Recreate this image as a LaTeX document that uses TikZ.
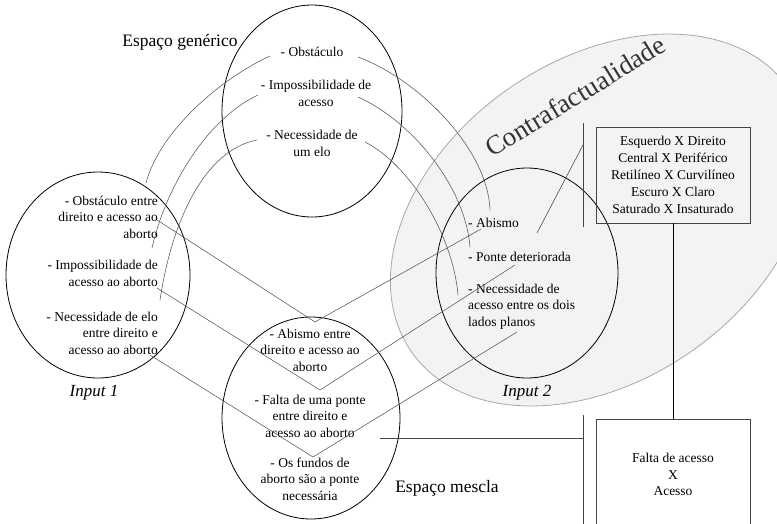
\documentclass[tikz,border=0pt]{standalone}
\usepackage{fontspec}
\setmainfont{Liberation Serif}
\usetikzlibrary{shapes.geometric}
\definecolor{cfill}{HTML}{F2F3F3}
\definecolor{cline}{HTML}{A8A8A8}
\definecolor{lnk}{HTML}{555555}
\definecolor{bxl}{HTML}{444444}
\begin{document}
\begin{tikzpicture}[x=1pt,y=-1pt,
  txt/.style={font=\fontsize{13.5}{16.5}\selectfont, inner sep=0pt},
  ell/.style={ellipse, draw=black, line width=0.8pt, inner sep=0pt},
  link/.style={draw=lnk, line width=0.55pt},
  boxline/.style={draw=bxl, line width=0.9pt},
  lbl/.style={font=\fontsize{17.5}{20}\selectfont, inner sep=0pt},
  inlbl/.style={font=\fontsize{17}{20}\selectfont\itshape, inner sep=0pt}]
\useasboundingbox (0,0) rectangle (777,523);
\clip (0,0) rectangle (777,523);

% Contrafactualidade region
\filldraw[fill=cfill, draw=cline, line width=0.8pt, rotate around={35:(600,220)}]
  (600,220) ellipse [x radius=230, y radius=160];
\node[rotate=31.5, font=\fontsize{27}{30}\selectfont, text=black!80, inner sep=0pt] (cf) at (575,96) {Contrafactualidade};

% Ellipses
\node[ell, minimum width=180, minimum height=212] (gen) at (312,111) {};
\node[ell, minimum width=184, minimum height=206] (in1) at (98,275) {};
\node[ell, minimum width=182, minimum height=210] (in2) at (527,273) {};
\node[ell, minimum width=178, minimum height=202] (blend) at (311,418) {};

% Labels
\node[lbl] (lgen) at (180,42) {Espaço genérico};
\node[lbl] (lbl) at (447,488) {Espaço mescla};
\node[inlbl] (lin1) at (94,393) {Input 1};
\node[inlbl] (lin2) at (527,393) {Input 2};

% Generic space texts
\node[txt, align=center] (gob) at (312,52) {- Obstáculo};
\node[txt, align=center] (gim) at (316,93.5) {- Impossibilidade de\\acesso};
\node[txt, align=center] (gne) at (312,143.5) {- Necessidade de\\um elo};

% Input 1 texts
\node[txt, align=right, anchor=east] (ia) at (158,217) {- Obstáculo entre\\direito e acesso ao\\aborto};
\node[txt, align=right, anchor=east] (ib) at (158,273.5) {- Impossibilidade de\\acesso ao aborto};
\node[txt, align=right, anchor=east] (ic) at (158,333) {- Necessidade de elo\\entre direito e\\acesso ao aborto};

% Input 2 texts
\node[txt, align=left, anchor=west] (ja) at (468,223) {- Abismo};
\node[txt, align=left, anchor=west] (jb) at (468,257) {- Ponte deteriorada};
\node[txt, align=left, anchor=west] (jc) at (468,306.5) {- Necessidade de\\acesso entre os dois\\lados planos};

% Blend texts
\node[txt, align=center] (ba) at (310,350) {- Abismo entre\\direito e acesso ao\\aborto};
\node[txt, align=center] (bb) at (310,416) {- Falta de uma ponte\\entre direito e\\acesso ao aborto};
\node[txt, align=center] (bc) at (310,479) {- Os fundos de\\aborto são a ponte\\necessária};

% Boxes
\node[txt, boxline, align=center, minimum width=154, minimum height=96, font=\fontsize{13.5}{17}\selectfont] (topbox) at (673,175)
  {Esquerdo X Direito\\Central X Periférico\\Retilíneo X Curvilíneo\\Escuro X Claro\\Saturado X Insaturado};
\node[txt, boxline, align=center, minimum width=154, minimum height=111, font=\fontsize{13.5}{16.5}\selectfont] (botbox) at (673,474.5)
  {Falta de acesso\\X\\Acesso};

% Coordinates for connector ends
\coordinate (c1s) at (270,56);  \coordinate (c1e) at (146,183);
\coordinate (c2s) at (258,95);  \coordinate (c2e) at (152,248);
\coordinate (c3s) at (257,140); \coordinate (c3e) at (160,300);
\coordinate (r1s) at (358,57);  \coordinate (r1e) at (490,210);
\coordinate (r2s) at (358,97);  \coordinate (r2e) at (470,247);
\coordinate (r3s) at (365,142); \coordinate (r3e) at (458,295);
\coordinate (v1l) at (157,220); \coordinate (v1) at (315,322); \coordinate (v1r) at (481,229);
\coordinate (v2l) at (157,288); \coordinate (v2) at (320,390); \coordinate (v2r) at (515,265);
\coordinate (v3l) at (150,355); \coordinate (v3) at (313,457); \coordinate (v3r) at (517,332);
\coordinate (bar1t) at (583,123); \coordinate (bar1b) at (583,227);
\coordinate (bar2t) at (583,415); \coordinate (bar2b) at (583,530);
\coordinate (lin2s) at (537,233); \coordinate (lin2e) at (583,145);
\coordinate (hs) at (380,438); \coordinate (he) at (583,438);

% Generic -> Input 1 curves
\draw[link] (c1s) .. controls (222,78) and (160,130) .. (c1e);
\draw[link] (c2s) .. controls (205,120) and (165,190) .. (c2e);
\draw[link] (c3s) .. controls (205,150) and (172,220) .. (c3e);
% Generic -> Input 2 curves
\draw[link] (r1s) .. controls (420,80) and (488,150) .. (r1e);
\draw[link] (r2s) .. controls (410,120) and (465,185) .. (r2e);
\draw[link] (r3s) .. controls (410,165) and (453,235) .. (r3e);
% Inputs -> blend
\draw[link] (v1l) -- (v1) -- (v1r);
\draw[link] (v2l) -- (v2) -- (v2r);
\draw[link] (v3l) -- (v3) -- (v3r);

% Box connections
\draw[boxline] (bar1t) -- (bar1b);
\draw[boxline] (bar2t) -- (bar2b);
\draw[link, draw=bxl] (lin2s) -- (lin2e);
\draw[link, draw=bxl, line width=0.8pt] (hs) -- (he);
\draw[draw=black, line width=0.8pt] (topbox.south) -- (botbox.north);
\end{tikzpicture}
\end{document}
